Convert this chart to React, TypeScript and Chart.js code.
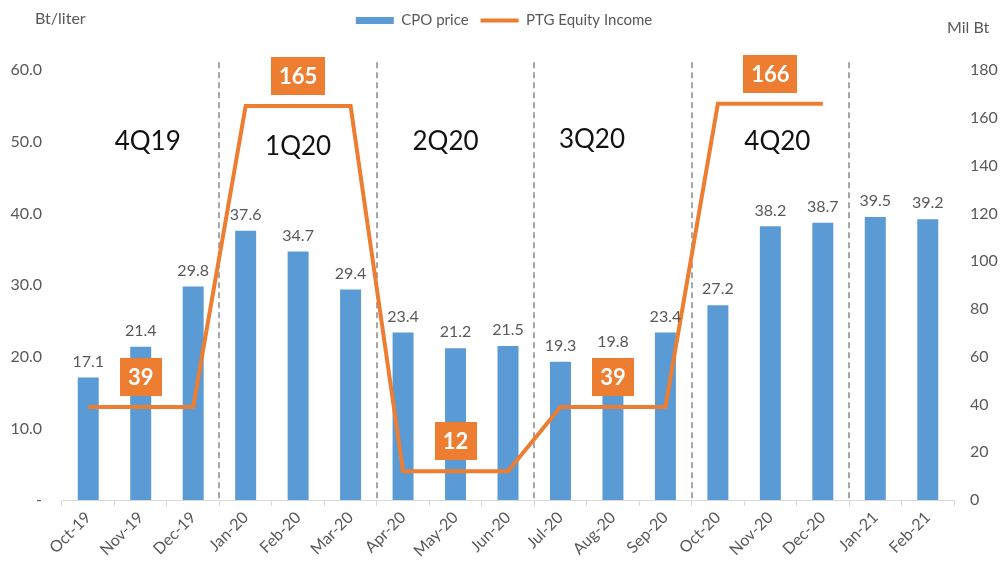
import React, { useEffect, useRef } from "react";
import { Chart, registerables } from "chart.js";

Chart.register(...registerables);

const months = [
  "Oct-19", "Nov-19", "Dec-19", "Jan-20", "Feb-20", "Mar-20", "Apr-20", "May-20", "Jun-20",
  "Jul-20", "Aug-20", "Sep-20", "Oct-20", "Nov-20", "Dec-20", "Jan-21", "Feb-21",
];
const cpoPrice = [17.1, 21.4, 29.8, 37.6, 34.7, 29.4, 23.4, 21.2, 21.5, 19.3, 19.8, 23.4, 27.2, 38.2, 38.7, 39.5, 39.2];
const equityIncome: (number | null)[] = [39, 39, 39, 165, 165, 165, 12, 12, 12, 39, 39, 39, 166, 166, 166, null, null];
const quarterLabels = ["4Q19", "1Q20", "2Q20", "3Q20", "4Q20"];
const quarterBreaks = [3, 6, 9, 12, 15];
const calloutIndices = [1, 4, 7, 10, 13];

const FONT = "Lato, 'Open Sans', sans-serif";
const GREY = "#595959";
const BLUE = "#5B9BD5";
const ORANGE = "#ED7D31";

// layout nudges for quarter captions (pixels)
const qNudgeX = [7, 0, -10, -21, 7];
const qNudgeY = [0, 5, 0, -2, 0];

const overlay = {
  id: "overlay",
  beforeDatasetsDraw(chart: any) {
    const { ctx, chartArea, scales } = chart;
    const x = scales.x;
    const y = scales.y;
    ctx.save();
    ctx.strokeStyle = "#a6a6a6";
    ctx.lineWidth = 2;
    ctx.setLineDash([6, 4]);
    quarterBreaks.forEach((i) => {
      const px = Math.round((x.getPixelForValue(i - 1) + x.getPixelForValue(i)) / 2);
      ctx.beginPath();
      ctx.moveTo(px, chartArea.top - 8);
      ctx.lineTo(px, chartArea.bottom);
      ctx.stroke();
    });
    ctx.setLineDash([]);
    ctx.fillStyle = "#111";
    ctx.font = `26px ${FONT}`;
    ctx.textAlign = "center";
    ctx.textBaseline = "middle";
    quarterLabels.forEach((q, k) => {
      const px = x.getPixelForValue(k * 3 + 1) + qNudgeX[k];
      const py = y.getPixelForValue(50) + qNudgeY[k];
      ctx.fillText(q, px, py);
    });
    ctx.restore();
  },
  afterDatasetsDraw(chart: any) {
    const { ctx } = chart;
    ctx.save();
    const barMeta = chart.getDatasetMeta(0);
    ctx.fillStyle = GREY;
    ctx.font = `16px ${FONT}`;
    ctx.textAlign = "center";
    ctx.textBaseline = "middle";
    barMeta.data.forEach((el: any, i: number) => {
      ctx.fillText(cpoPrice[i].toFixed(1), el.x, el.y - 16);
    });
    const lineMeta = chart.getDatasetMeta(1);
    ctx.font = `bold 22px ${FONT}`;
    calloutIndices.forEach((i) => {
      const el = lineMeta.data[i];
      const txt = String(equityIncome[i]);
      const w = ctx.measureText(txt).width + 16;
      const h = 38;
      const cx = el.x;
      const cy = el.y - 30;
      ctx.fillStyle = ORANGE;
      ctx.fillRect(Math.round(cx - w / 2), Math.round(cy - h / 2), Math.round(w), h);
      ctx.fillStyle = "#ffffff";
      ctx.fillText(txt, cx, cy + 1);
    });
    ctx.restore();
  },
  afterDraw(chart: any) {
    const { ctx } = chart;
    ctx.save();
    ctx.fillStyle = GREY;
    ctx.font = `16px ${FONT}`;
    ctx.textBaseline = "middle";
    ctx.textAlign = "left";
    ctx.fillText("Bt/liter", 35, 19);
    ctx.fillText("Mil Bt", 947, 28);
    ctx.restore();
  },
};

export default function App() {
  const ref = useRef<HTMLCanvasElement>(null);
  useEffect(() => {
    document.body.style.margin = "0";
    const chart = new Chart(ref.current as HTMLCanvasElement, {
      data: {
        labels: months,
        datasets: [
          {
            type: "bar",
            label: "CPO price",
            data: cpoPrice,
            backgroundColor: BLUE,
            borderWidth: 0,
            categoryPercentage: 1,
            barPercentage: 0.4,
            yAxisID: "y",
            order: 1,
          } as any,
          {
            type: "line",
            label: "PTG Equity Income",
            data: equityIncome,
            borderColor: ORANGE,
            backgroundColor: ORANGE,
            borderWidth: 4,
            pointRadius: 0,
            tension: 0,
            spanGaps: false,
            yAxisID: "y1",
            order: 0,
            borderJoinStyle: "miter",
          } as any,
        ],
      },
      options: {
        animation: false,
        responsive: true,
        maintainAspectRatio: false,
        layout: { padding: { top: 1, left: 0, right: 0, bottom: 0 } },
        plugins: {
          legend: {
            display: true,
            position: "top",
            weight: 1000,
            labels: {
              usePointStyle: true,
              pointStyleWidth: 38,
              boxHeight: 7,
              color: GREY,
              font: { family: FONT, size: 15 },
              padding: 12,
              sort: (a: any, b: any) => a.datasetIndex - b.datasetIndex,
              generateLabels: (chart: any) =>
                chart.data.datasets.map((ds: any, i: number) => ({
                  text: ds.label,
                  fillStyle: i === 0 ? BLUE : ORANGE,
                  strokeStyle: ORANGE,
                  lineWidth: i === 0 ? 0 : 4,
                  pointStyle: i === 0 ? "rect" : "line",
                  fontColor: GREY,
                  datasetIndex: i,
                  hidden: false,
                })),
            },
          } as any,
          title: {
            display: true,
            text: " ",
            weight: 500,
            font: { size: 1 },
            padding: { top: 0, bottom: 31 },
          } as any,
          tooltip: { enabled: false },
        },
        scales: {
          x: {
            offset: true,
            grid: {
              display: true,
              drawOnChartArea: false,
              drawTicks: true,
              tickLength: 6,
              color: "#d9d9d9",
              offset: true,
            },
            border: { display: true, color: "#d9d9d9", width: 1 },
            ticks: {
              color: GREY,
              font: { family: FONT, size: 16 },
              minRotation: 45,
              maxRotation: 45,
              padding: 2,
              autoSkip: false,
            },
            afterFit: (s: any) => {
              s.height = 61;
            },
          },
          y: {
            position: "left",
            min: 0,
            max: 60,
            grid: { display: false, drawTicks: false },
            border: { display: false },
            ticks: {
              stepSize: 10,
              color: GREY,
              font: { family: FONT, size: 16 },
              padding: 20,
              callback: (v: any) => (Number(v) === 0 ? "-" : Number(v).toFixed(1)),
            },
            afterFit: (s: any) => {
              s.width = 62;
            },
          },
          y1: {
            position: "right",
            min: 0,
            max: 180,
            grid: { display: false, drawTicks: false },
            border: { display: false },
            ticks: {
              stepSize: 20,
              color: GREY,
              font: { family: FONT, size: 16 },
              padding: 16,
            },
            afterFit: (s: any) => {
              s.width = 54;
            },
          },
        },
      } as any,
      plugins: [overlay],
    });
    return () => chart.destroy();
  }, []);
  return (
    <div style={{ position: "relative", width: "1008px", height: "561px" }}>
      <canvas ref={ref} />
    </div>
  );
}
